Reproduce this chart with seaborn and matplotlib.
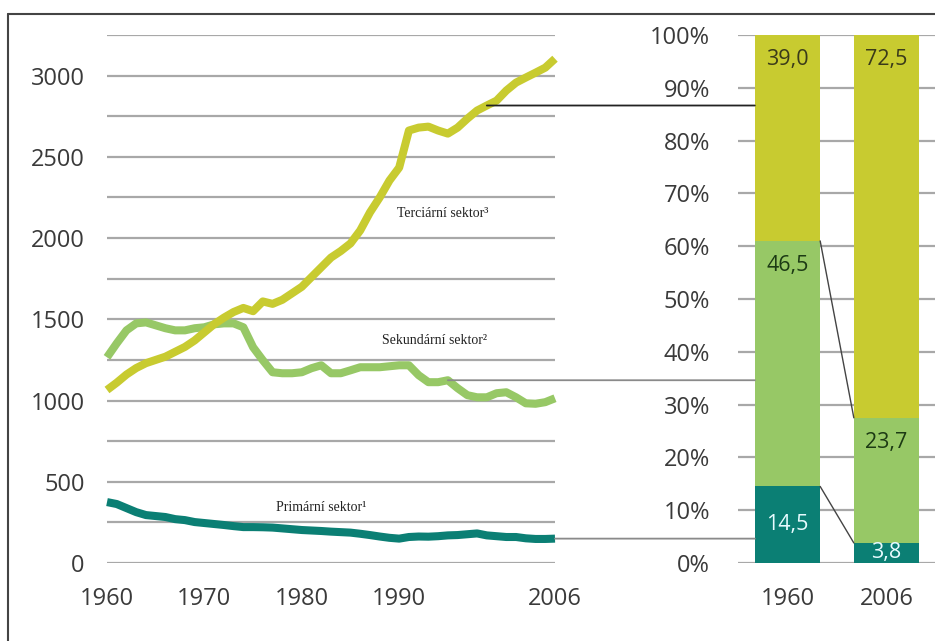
import numpy as np
import pandas as pd
import matplotlib.pyplot as plt
import seaborn as sns
from matplotlib.patches import ConnectionPatch
from matplotlib.lines import Line2D

# employment by sector (thousands)
years = list(range(1960, 2007))
primary = [375, 363, 338, 313, 295, 289, 283, 270, 264, 252,
           246, 240, 234, 227, 221, 221, 220, 218, 213, 208,
           203, 200, 197, 193, 190, 187, 180, 172, 163, 155,
           150, 160, 163, 162, 165, 170, 172, 177, 182, 170,
           165, 160, 160, 152, 148, 148, 150]
secondary = [1266, 1352, 1432, 1475, 1481, 1463, 1445, 1432, 1432, 1445,
             1451, 1469, 1475, 1475, 1451, 1328, 1248, 1174, 1168, 1168,
             1174, 1199, 1217, 1168, 1168, 1186, 1205, 1205, 1205, 1211,
             1217, 1217, 1156, 1113, 1113, 1125, 1076, 1033, 1020, 1020,
             1045, 1051, 1020, 983, 980, 990, 1014]
tertiary = [1065, 1110, 1160, 1200, 1230, 1250, 1270, 1300, 1330, 1370,
            1420, 1470, 1510, 1545, 1570, 1550, 1610, 1595, 1620, 1660,
            1700, 1760, 1820, 1880, 1920, 1967, 2047, 2158, 2250, 2354,
            2434, 2662, 2680, 2686, 2662, 2643, 2680, 2735, 2785, 2816,
            2846, 2908, 2957, 2988, 3018, 3049, 3104]

# shares (%) for the two bars
bar_years = ["1960", "2006"]
share_primary = [14.5, 3.8]
share_secondary = [46.5, 23.7]
share_tertiary = [39.0, 72.5]

sector_names = ["Primární sektor¹", "Sekundární sektor²", "Terciární sektor³"]
colors = ["#0b7f74", "#97c866", "#c8cb30"]
label_pos = [(1977.4, 344), (1988.2, 1371), (1989.8, 2151)]
link_years = [2006, 1995, 1999]

sns.set_style("white")
plt.rcParams['font.family'] = ['Open Sans', 'DejaVu Sans']

fig = plt.figure(figsize=(9.35, 6.41), dpi=100)
ax1 = fig.add_axes([107/935, 78/641, 448/935, 528/641])
ax2 = fig.add_axes([738/935, 78/641, 198/935, 528/641])

df = pd.DataFrame({"year": years * 3,
                   "value": primary + secondary + tertiary,
                   "sector": [s for s in sector_names for _ in years]})

# gridlines
for ax in (ax1, ax2):
    ax.set_axisbelow(True)
    ax.grid(axis="y", which="both", color="#a8a8a8", lw=1.6)
    ax.grid(axis="x", visible=False)
    sns.despine(ax=ax, left=True, bottom=True)
    ax.tick_params(length=0, labelsize=17, labelcolor="#3a3a3a", pad=16)

sns.lineplot(data=df, x="year", y="value", hue="sector", palette=colors,
             hue_order=sector_names, lw=5.8, legend=False, ax=ax1,
             clip_on=False, solid_capstyle="butt")
ax1.set_xlim(1960, 2006)
ax1.set_ylim(0, 3250)
ax1.set_yticks(range(0, 3001, 500))
ax1.set_yticks(range(250, 3251, 500), minor=True)
ax1.set_xticks([1960, 1970, 1980, 1990, 2006])
ax1.tick_params(axis="x", pad=17)
ax1.set_xlabel("")
ax1.set_ylabel("")

for name, (x, y) in zip(sector_names, label_pos):
    ax1.text(x, y, name, fontsize=10, family="Liberation Serif",
             color="#222222", va="center", ha="left")

# stacked bars
bw = 0.66
cum_top = [p + s + t for p, s, t in zip(share_primary, share_secondary, share_tertiary)]
cum_mid = [p + s for p, s in zip(share_primary, share_secondary)]
for vals, c in [(cum_top, colors[2]), (cum_mid, colors[1]), (share_primary, colors[0])]:
    sns.barplot(x=bar_years, y=vals, color=c, width=bw, ax=ax2,
                saturation=1, linewidth=0)
ax2.set_xlim(-0.5, 1.5)
ax2.set_ylim(0, 100)
ax2.set_yticks(range(0, 101, 10))
ax2.set_yticklabels([f"{v}%" for v in range(0, 101, 10)])
ax2.tick_params(axis="x", pad=17)
ax2.tick_params(axis="y", pad=20)

def fmt(v):
    return f"{v:.1f}".replace(".", ",")

for i in range(2):
    segs = [(share_primary[i], share_primary[i], "#e8fbff"),
            (cum_mid[i], share_secondary[i], "#1c3a14"),
            (cum_top[i], share_tertiary[i], "#3a3a1a")]
    for top, val, c in segs:
        yy = top - 4.6 if val > 9 else top / 2
        if i == 0 and val == share_primary[i]:
            yy = top - 7.2
        ax2.text(i, yy, fmt(val), ha="center", va="center", fontsize=15.5, color=c)

# slope connectors between the bars
for top_a, top_b in [(cum_mid[0], cum_mid[1]), (share_primary[0], share_primary[1])]:
    ax2.add_line(Line2D([bw / 2, 1 - bw / 2], [top_a, top_b], color="#444444", lw=1))

# connectors from line ends to the 1960 bar
series = [primary, secondary, tertiary]
link_colors = ["#8a8a8a", "#8a8a8a", "#222222"]
for s, yr, lc in zip(series, link_years, link_colors):
    val = s[years.index(yr)]
    con = ConnectionPatch(xyA=(yr, val), coordsA=ax1.transData,
                          xyB=(-bw / 2, val / 3250 * 100), coordsB=ax2.transData,
                          color=lc, lw=1.3)
    fig.add_artist(con)

# frame
fig.add_artist(Line2D([8/935, 8/935], [0, 1 - 14/641], color="#444444", lw=1.5))
fig.add_artist(Line2D([8/935, 1], [1 - 14/641, 1 - 14/641], color="#444444", lw=1.5))

fig.savefig("out.png", dpi=100)
